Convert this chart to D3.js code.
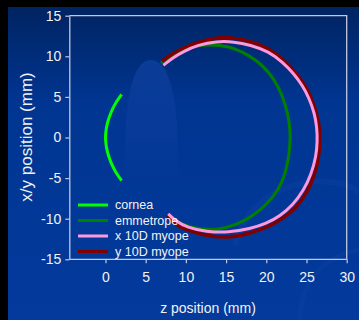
<!DOCTYPE html>
<html>
<head>
<meta charset="utf-8">
<script src="https://cdn.jsdelivr.net/npm/d3@7"></script>
<style>
  html, body { margin: 0; padding: 0; background: #000; }
  svg { display: block; font-family: "Liberation Sans", Arial, sans-serif; }
</style>
</head>
<body>
<div id="chart"></div>
<script>
// series: [z, x/y] in mm
const cornea = [[2.0, 5.3], [1.4, 4.5], [0.85, 3.5], [0.45, 2.5], [0.15, 1.5], [0.02, 0.5], [0, 0],
  [0.02, -0.5], [0.15, -1.5], [0.45, -2.5], [0.85, -3.5], [1.4, -4.5], [2.0, -5.3]];

const emmetrope = [[6.9, 9.2], [8.0, 10.0], [9.5, 10.8], [11.2, 11.3], [13.2, 11.45], [15.2, 11.25],
  [17.0, 10.6], [18.8, 9.5], [20.3, 8.1], [21.5, 6.3], [22.4, 4.1], [22.9, 1.8], [23.0, 0],
  [22.85, -2.1], [22.4, -4.4], [21.5, -6.5], [20.1, -8.2], [18.3, -9.7], [16.2, -10.8],
  [14.0, -11.35], [12.0, -11.35], [10.0, -10.9], [8.0, -10.0]];

const xMyope = [[7.2, 8.9], [8.5, 9.9], [9.7, 10.6], [11.5, 11.4], [13.8, 11.85], [16.0, 11.8],
  [18.0, 11.4], [20.3, 10.6], [22.0, 9.3], [23.4, 7.9], [24.5, 6.4], [25.3, 4.9], [26.0, 3.0],
  [26.3, 1.2], [26.35, -0.5], [26.2, -2.3], [25.6, -4.5], [24.6, -6.6], [23.3, -8.3], [21.7, -9.7],
  [20.0, -10.6], [18.0, -11.25], [15.3, -11.7], [12.5, -11.6], [10.2, -11.1], [8.6, -10.2], [7.8, -9.4]];

const yMyope = [[7.0, 9.4], [8.3, 10.3], [9.7, 11.05], [11.7, 11.8], [13.8, 12.28], [15.5, 12.36],
  [18.0, 11.9], [20.3, 11.0], [22.0, 9.7], [23.4, 8.3], [24.5, 6.9], [25.3, 5.6], [26.1, 3.6],
  [26.6, 1.5], [26.7, 0], [26.6, -2.1], [26.05, -4.6], [25.0, -6.9], [23.8, -8.6], [22.1, -9.95],
  [20.3, -11.0], [18.0, -11.8], [15.5, -12.35], [12.8, -12.15], [10.7, -11.6], [9.2, -11.0],
  [8.2, -10.3], [7.7, -9.5]];

const seriesNames = ['cornea', 'emmetrope', 'x 10D myope', 'y 10D myope'];
const seriesColors = ['#00ff00', '#008000', '#ff99dd', '#800000'];
const xTicks = [0, 5, 10, 15, 20, 25, 30];
const yTicks = [-15, -10, -5, 0, 5, 10, 15];

const W = 359, H = 320;
const plot = { left: 69.3, right: 346.7, top: 15.7, bottom: 259.3 };

const svg = d3.select('#chart').append('svg')
  .attr('width', W)
  .attr('height', H);

// background
const defs = svg.append('defs');
const bg = defs.append('linearGradient').attr('id', 'bg')
  .attr('x1', 0).attr('y1', 0).attr('x2', 0).attr('y2', 1);
bg.append('stop').attr('offset', '0%').attr('stop-color', '#002462');
bg.append('stop').attr('offset', '30%').attr('stop-color', '#003591');
bg.append('stop').attr('offset', '100%').attr('stop-color', '#033a9c');

const blob = defs.append('linearGradient').attr('id', 'blob')
  .attr('x1', 0).attr('y1', 0).attr('x2', 0).attr('y2', 1);
blob.append('stop').attr('offset', '0%').attr('stop-color', '#0a3c98').attr('stop-opacity', 1);
blob.append('stop').attr('offset', '55%').attr('stop-color', '#0a3c9c').attr('stop-opacity', 0.7);
blob.append('stop').attr('offset', '100%').attr('stop-color', '#0a3c9c').attr('stop-opacity', 0);

svg.append('rect').attr('width', W).attr('height', H).attr('fill', '#000');
svg.append('rect').attr('x', 8).attr('y', 7).attr('width', W - 8).attr('height', H - 7).attr('fill', 'url(#bg)');

// faint decorative swooshes
svg.append('path')
  .attr('d', 'M235,245 C250,180 330,170 359,192')
  .attr('fill', 'none').attr('stroke', '#1446a8').attr('stroke-opacity', 0.3).attr('stroke-width', 6);
svg.append('path')
  .attr('d', 'M300,320 C300,270 340,252 359,250')
  .attr('fill', 'none').attr('stroke', '#1446a8').attr('stroke-opacity', 0.25).attr('stroke-width', 5);

svg.append('path')
  .attr('d', 'M125,185 C123,110 130,60 151,60 C172,60 180,110 178,185 Z')
  .attr('fill', 'url(#blob)');

const x = d3.scaleLinear().domain([-4.5, 30]).range([plot.left, plot.right]);
const y = d3.scaleLinear().domain([-15, 15]).range([plot.bottom, plot.top]);

const axisColor = '#c4c8dc';
const textColor = '#f2f2f2';

// frame (top and right)
svg.append('path')
  .attr('d', `M${plot.left},${plot.top}H${plot.right}V${plot.bottom}`)
  .attr('fill', 'none').attr('stroke', axisColor).attr('stroke-width', 1.3);

const xAxis = svg.append('g')
  .attr('transform', `translate(0,${plot.bottom})`)
  .call(d3.axisBottom(x).tickValues(xTicks).tickFormat(d => String(d))
    .tickSize(4).tickSizeOuter(0).tickPadding(9));

const yAxis = svg.append('g')
  .attr('transform', `translate(${plot.left},0)`)
  .call(d3.axisLeft(y).tickValues(yTicks).tickFormat(d => String(d))
    .tickSize(4).tickSizeOuter(0).tickPadding(4));

[xAxis, yAxis].forEach(a => {
  a.select('.domain').attr('stroke', axisColor).attr('stroke-width', 1.3);
  a.selectAll('.tick line').attr('stroke', axisColor).attr('stroke-width', 1.2);
  a.selectAll('.tick text')
    .attr('fill', textColor)
    .style('font-size', '14px')
    .style('font-family', '"Liberation Sans", Arial, sans-serif');
});
// extend the x domain to the left axis
xAxis.select('.domain').attr('d', `M${plot.left},0H${plot.right}`);

// axis titles
svg.append('text')
  .attr('x', 208).attr('y', 313)
  .attr('text-anchor', 'middle')
  .attr('fill', textColor)
  .style('font-size', '14px')
  .text('z position (mm)');

svg.append('text')
  .attr('transform', 'translate(32,137) rotate(-90)')
  .attr('text-anchor', 'middle')
  .attr('fill', textColor)
  .style('font-size', '17px')
  .text('x/y position (mm)');

// curves
const line = d3.line()
  .x(d => x(d[0]))
  .y(d => y(d[1]))
  .curve(d3.curveBasis);

const drawOrder = [
  { data: cornea, i: 0, w: 3 },
  { data: emmetrope, i: 1, w: 3 },
  { data: yMyope, i: 3, w: 3.5 },
  { data: xMyope, i: 2, w: 3 }
];

drawOrder.forEach(s => {
  svg.append('path')
    .datum(s.data)
    .attr('fill', 'none')
    .attr('stroke', seriesColors[s.i])
    .attr('stroke-width', s.w)
    .attr('stroke-linejoin', 'round')
    .attr('d', line);
});

// legend
const legend = svg.append('g').attr('transform', 'translate(78,205)');
seriesNames.forEach((name, i) => {
  const g = legend.append('g').attr('transform', `translate(0,${i * 15.5})`);
  g.append('line')
    .attr('x1', 0).attr('x2', 30)
    .attr('stroke', seriesColors[i]).attr('stroke-width', 3);
  g.append('text')
    .attr('x', 37).attr('y', 0)
    .attr('dy', '0.35em')
    .attr('fill', textColor)
    .style('font-size', '12.5px')
    .text(name);
});
</script>
</body>
</html>
